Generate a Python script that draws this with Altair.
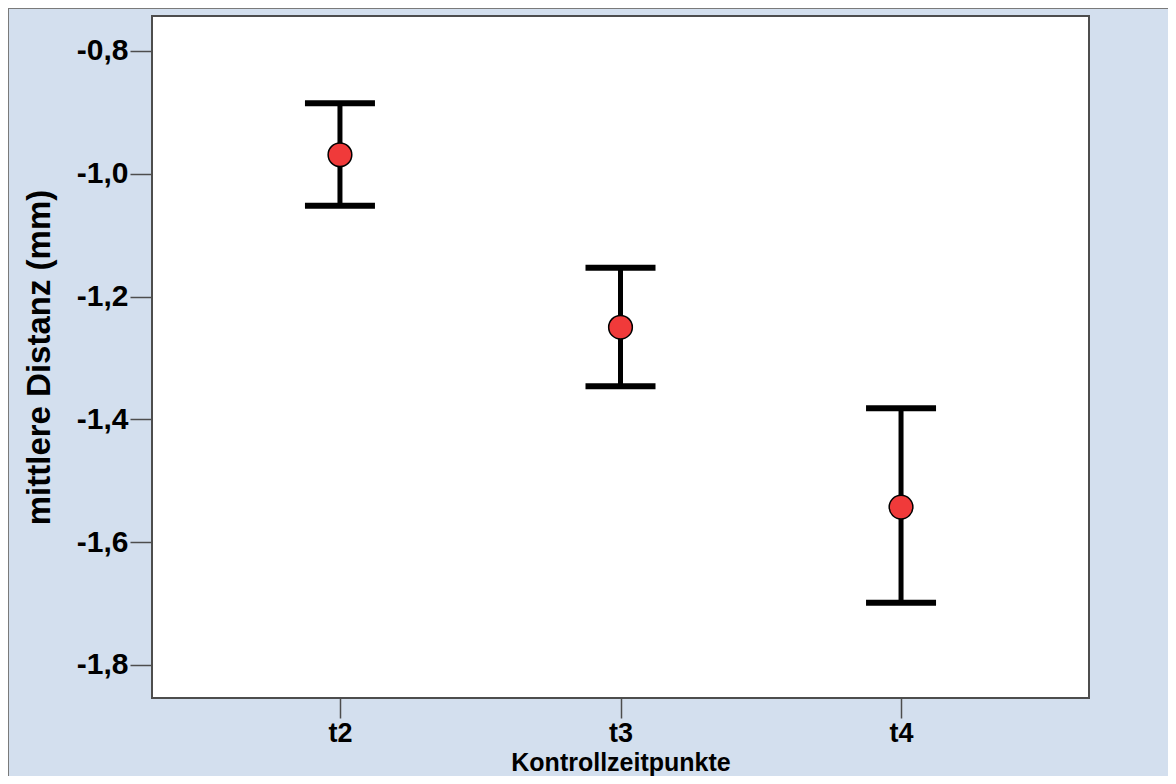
import altair as alt
import pandas as pd

# --- data ---
zeitpunkte = ["t2", "t3", "t4"]
mittelwert = [-0.969, -1.250, -1.543]
obere_grenze = [-0.885, -1.153, -1.382]
untere_grenze = [-1.052, -1.346, -1.699]
y_ticks = [-1.8, -1.6, -1.4, -1.2, -1.0, -0.8]
y_domain = [-1.854, -0.743]

df = pd.DataFrame({
    "zeitpunkt": zeitpunkte,
    "mittel": mittelwert,
    "oben": obere_grenze,
    "unten": untere_grenze,
})

W, H = 937, 682
PAD = {"left": 144, "top": 8, "right": 79, "bottom": 78}
FONT = "Liberation Sans"
BG = "#d3dfee"

label_expr = "(datum.value < 0 ? '-' : '') + replace(format(abs(datum.value), '.1f'), '.', ',')"

x_enc = alt.X(
    "zeitpunkt:N",
    sort=zeitpunkte,
    scale=alt.Scale(type="point", padding=0.67),
    axis=alt.Axis(title="Kontrollzeitpunkte", labelAngle=0, labelPadding=2,
                  labelFontSize=27, tickSize=20, titleFontSize=25,
                  titleY=72, titleBaseline="alphabetic"),
)
y_scale = alt.Scale(domain=y_domain, nice=False, zero=False)
y_axis = alt.Axis(title="mittlere Distanz (mm)", values=y_ticks, labelExpr=label_expr,
                  labelPadding=2, titlePadding=20, titleFontSize=33)

base = alt.Chart(df)

bars = base.mark_rule(color="black", strokeWidth=5).encode(
    x=x_enc,
    y=alt.Y("unten:Q", scale=y_scale, axis=y_axis),
    y2="oben:Q",
)
cap_top = base.mark_tick(color="black", thickness=6, size=70, opacity=1).encode(
    x=x_enc, y=alt.Y("oben:Q", scale=y_scale)
)
cap_bot = base.mark_tick(color="black", thickness=6, size=70, opacity=1).encode(
    x=x_enc, y=alt.Y("unten:Q", scale=y_scale)
)
points = base.mark_point(filled=True, shape="circle", size=560, fill="#f03a3a",
                         stroke="black", strokeWidth=1.5, opacity=1).encode(
    x=x_enc, y=alt.Y("mittel:Q", scale=y_scale)
)

frame_data = alt.Data(values=[{"k": 1}])
top_line = alt.Chart(frame_data).mark_rule(color="#7a7a7a", strokeWidth=1).encode(
    x=alt.value(-PAD["left"]), x2=alt.value(W + PAD["right"]), y=alt.value(-PAD["top"] + 0.5)
)
left_line = alt.Chart(frame_data).mark_rule(color="#7a7a7a", strokeWidth=1).encode(
    y=alt.value(-PAD["top"]), y2=alt.value(H + PAD["bottom"]), x=alt.value(-PAD["left"] + 0.5)
)

chart = alt.layer(bars, cap_top, cap_bot, points, top_line, left_line).properties(
    width=W, height=H,
    autosize=alt.AutoSizeParams(type="none"),
    padding=PAD,
    background=BG,
).configure_view(
    fill="white", stroke="#4d4d4d", strokeWidth=2,
).configure_axis(
    labelFont=FONT, labelFontWeight="bold", labelFontSize=30, labelColor="black",
    titleFont=FONT, titleFontWeight="bold", titleColor="black",
    tickSize=22, tickColor="#4d4d4d", tickWidth=1.5,
    domain=False, grid=False,
)

chart.save("out.html", embed_options={"renderer": "svg", "actions": False})
